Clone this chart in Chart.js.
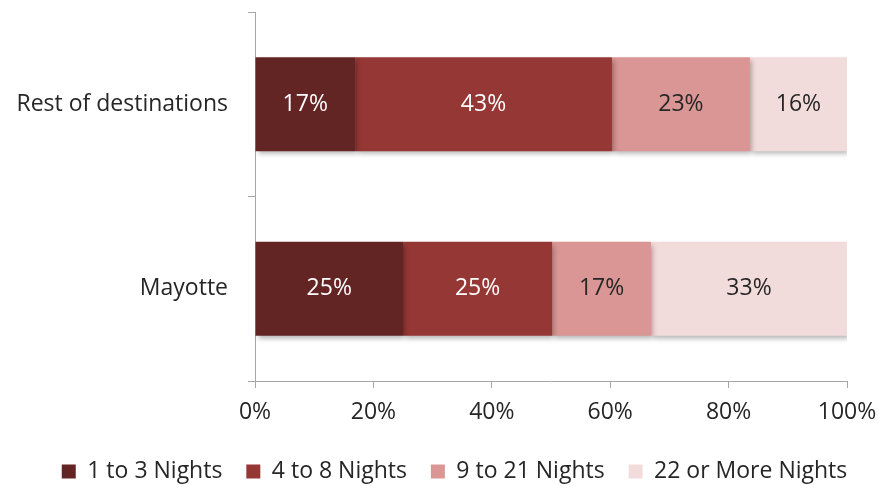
<!DOCTYPE html>
<html lang="en">
<head>
<meta charset="UTF-8">
<title>Length of stay by destination</title>
<script src="https://cdn.jsdelivr.net/npm/chart.js"></script>
<style>
    body { margin: 0; background: #fff; }
    #wrap { width: 879px; height: 486px; position: relative; }
</style>
</head>
<body>
<div id="wrap"><canvas id="stayChart"></canvas></div>
<script>
    // destinations, top to bottom
    const destinations = ["Rest of destinations", "Mayotte"];
    const stayLabels = ["1 to 3 Nights", "4 to 8 Nights", "9 to 21 Nights", "22 or More Nights"];
    // share of trips (%) per destination
    const nights1to3 = [16.9, 25.0];
    const nights4to8 = [43.4, 25.2];
    const nights9to21 = [23.3, 16.7];
    const nights22plus = [16.4, 33.1];
    const xTicks = [0, 20, 40, 60, 80, 100];

    const colors = ["#632523", "#953735", "#d99694", "#f2dcdb"];
    const labelColors = ["#ffffff", "#ffffff", "#262626", "#262626"];
    const FONT = "'Open Sans', Lato, sans-serif";
    const FONT_SIZE = 23;

    // soft drop shadow under the bars
    const barShadow = {
        id: "barShadow",
        beforeDatasetsDraw(chart) {
            const ctx = chart.ctx;
            ctx.save();
            ctx.shadowColor = "rgba(0,0,0,0.3)";
            ctx.shadowBlur = 5;
            ctx.shadowOffsetX = 2;
            ctx.shadowOffsetY = 3;
        },
        afterDatasetsDraw(chart) {
            chart.ctx.restore();
        }
    };

    // percentage labels centred on each segment
    const segmentLabels = {
        id: "segmentLabels",
        afterDatasetsDraw(chart) {
            const ctx = chart.ctx;
            ctx.save();
            ctx.font = FONT_SIZE + "px " + FONT;
            ctx.textAlign = "center";
            ctx.textBaseline = "middle";
            chart.data.datasets.forEach((ds, i) => {
                chart.getDatasetMeta(i).data.forEach((bar, j) => {
                    const c = bar.getCenterPoint();
                    ctx.fillStyle = labelColors[i];
                    ctx.fillText(Math.round(ds.data[j]) + "%", c.x, c.y);
                });
            });
            ctx.restore();
        }
    };

    // nudge the legend row a little to the right
    const legendShift = {
        id: "legendShift",
        afterLayout(chart) {
            if (chart.legend) {
                chart.legend.left += 15;
                chart.legend.right += 15;
            }
        }
    };

    const series = [nights1to3, nights4to8, nights9to21, nights22plus];

    new Chart(document.getElementById("stayChart"), {
        type: "bar",
        data: {
            labels: destinations,
            datasets: series.map((vals, i) => ({
                label: stayLabels[i],
                data: vals,
                backgroundColor: colors[i],
                borderWidth: 0,
                barPercentage: 0.51,
                categoryPercentage: 1
            }))
        },
        options: {
            indexAxis: "y",
            responsive: true,
            maintainAspectRatio: false,
            animation: false,
            layout: { padding: { top: 12, right: 0, bottom: -7, left: 0 } },
            plugins: {
                legend: {
                    position: "bottom",
                    labels: {
                        boxWidth: 14,
                        boxHeight: 14,
                        padding: 6,
                        color: "#262626",
                        font: { family: FONT, size: FONT_SIZE },
                        // wider gaps between legend entries
                        generateLabels(chart) {
                            const items = Chart.defaults.plugins.legend.labels.generateLabels(chart);
                            items.forEach((it, i) => {
                                if (i < items.length - 1) it.text += "\u00a0\u00a0\u00a0";
                            });
                            return items;
                        }
                    }
                },
                tooltip: { enabled: false }
            },
            scales: {
                x: {
                    stacked: true,
                    min: 0,
                    max: 100,
                    afterFit(scale) {
                        scale.height = 73;
                        scale.paddingLeft = 0;
                        scale.paddingRight = 32;
                    },
                    afterBuildTicks(scale) { scale.ticks = xTicks.map(v => ({ value: v })); },
                    ticks: {
                        padding: 11,
                        color: "#262626",
                        font: { family: FONT, size: FONT_SIZE },
                        callback: v => v + "%"
                    },
                    grid: { drawOnChartArea: false, tickLength: 7, color: "#a6a6a6" },
                    border: { color: "#a6a6a6" }
                },
                y: {
                    stacked: true,
                    afterFit(scale) {
                        scale.width = 255;
                        scale.paddingTop = 0;
                        scale.paddingBottom = 0;
                    },
                    ticks: {
                        padding: 20,
                        color: "#262626",
                        font: { family: FONT, size: FONT_SIZE }
                    },
                    grid: { drawOnChartArea: false, tickLength: 7, offset: true, color: "#a6a6a6" },
                    border: { color: "#a6a6a6" }
                }
            }
        },
        plugins: [barShadow, segmentLabels, legendShift]
    });
</script>
</body>
</html>
